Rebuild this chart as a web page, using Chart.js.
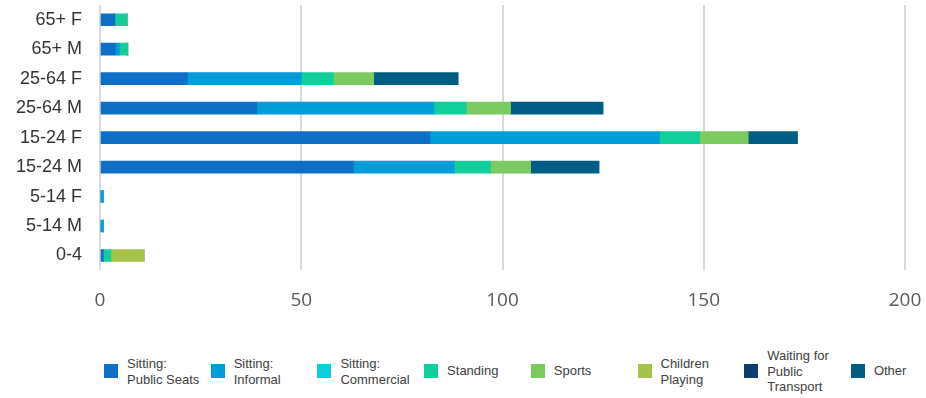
<!DOCTYPE html>
<html>
<head>
<meta charset="utf-8">
<script src="https://cdn.jsdelivr.net/npm/chart.js@4/dist/chart.umd.min.js"></script>
<style>
  html, body { margin: 0; padding: 0; background: #ffffff; }
  #wrap { position: relative; width: 926px; height: 398px; overflow: hidden; }
  #chart { position: absolute; left: 0; top: 0; }
  .leg-item { position: absolute; top: 0; height: 398px; }
  .leg-box { position: absolute; width: 14px; height: 14px; top: 364px; left: 0; }
  .leg-text {
    position: absolute; left: 23px; top: 371px; transform: translateY(-50%);
    font-family: "Liberation Sans", Arial, sans-serif; font-size: 13px;
    line-height: 15.5px; color: #404040; white-space: nowrap;
  }
</style>
</head>
<body>
<div id="wrap">
  <canvas id="chart" width="926" height="317"></canvas>
  <div id="legend"></div>
</div>
<script>
// Age / sex groups, top row first
const groups = ['65+ F', '65+ M', '25-64 F', '25-64 M', '15-24 F', '15-24 M', '5-14 F', '5-14 M', '0-4'];

// Counts per activity for each group
const sittingPublicSeats = [3.7, 3.8, 21.7, 39, 82, 63, 0, 0, 0.8];
const sittingInformal    = [0, 1, 28.3, 44, 57, 25, 0.8, 0.8, 0];
const sittingCommercial  = [0, 0, 0, 0, 0, 0, 0, 0, 0];
const standing           = [3, 2.1, 8, 8, 10, 9, 0, 0, 1.9];
const sports             = [0, 0, 10, 11, 12, 10, 0, 0, 0];
const childrenPlaying    = [0, 0, 0, 0, 0, 0, 0, 0, 8.2];
const waitingTransport   = [0, 0, 0, 0, 0, 0, 0, 0, 0];
const other              = [0, 0, 21, 23, 12.3, 17, 0, 0, 0];

const xTicks = [0, 50, 100, 150, 200];

const series = [
  { label: ['Sitting:', 'Public Seats'], data: sittingPublicSeats, color: '#0F6FC6' },
  { label: ['Sitting:', 'Informal'], data: sittingInformal, color: '#009DD9' },
  { label: ['Sitting:', 'Commercial'], data: sittingCommercial, color: '#0BD0D9' },
  { label: ['Standing'], data: standing, color: '#10CF9B' },
  { label: ['Sports'], data: sports, color: '#7CCA62' },
  { label: ['Children', 'Playing'], data: childrenPlaying, color: '#A5C249' },
  { label: ['Waiting for', 'Public', 'Transport'], data: waitingTransport, color: '#0B3D70' },
  { label: ['Other'], data: other, color: '#005E85' }
];

const chart = new Chart(document.getElementById('chart'), {
  type: 'bar',
  data: {
    labels: groups,
    datasets: series.map(s => ({
      label: s.label.join(' '),
      data: s.data,
      backgroundColor: s.color,
      borderWidth: 0,
      barThickness: 12
    }))
  },
  options: {
    indexAxis: 'y',
    responsive: false,
    animation: false,
    layout: { padding: { left: 0, right: 21, top: 5, bottom: 3 } },
    plugins: { legend: { display: false }, tooltip: { enabled: false } },
    scales: {
      x: {
        stacked: true,
        min: 0, max: 200,
        afterBuildTicks: axis => { axis.ticks = xTicks.map(v => ({ value: v })); },
        // invisible tick marks give the gap between plot and labels
        grid: { color: '#D9D9D9', lineWidth: 2, drawTicks: true, tickLength: 17, tickColor: 'rgba(0,0,0,0)' },
        border: { display: false },
        ticks: {
          padding: 2,
          color: '#595959',
          font: { family: '"Open Sans", sans-serif', size: 19 }
        }
      },
      y: {
        stacked: true,
        grid: { display: false, drawTicks: true, tickLength: 18, tickColor: 'rgba(0,0,0,0)' },
        border: { display: false },
        afterFit: axis => { axis.width = 100; },
        ticks: {
          autoSkip: false,
          padding: 0,
          color: '#333333',
          font: { family: '"Liberation Sans", Arial, sans-serif', size: 18, lineHeight: 0.5 }
        }
      }
    }
  }
});

// Legend row along the bottom
const legend = document.getElementById('legend');
series.forEach((s, i) => {
  const item = document.createElement('div');
  item.className = 'leg-item';
  item.style.left = (104 + i * 106.7) + 'px';
  const box = document.createElement('div');
  box.className = 'leg-box';
  box.style.background = s.color;
  const text = document.createElement('div');
  text.className = 'leg-text';
  text.innerHTML = s.label.join('<br>');
  item.appendChild(box);
  item.appendChild(text);
  legend.appendChild(item);
});
</script>
</body>
</html>
